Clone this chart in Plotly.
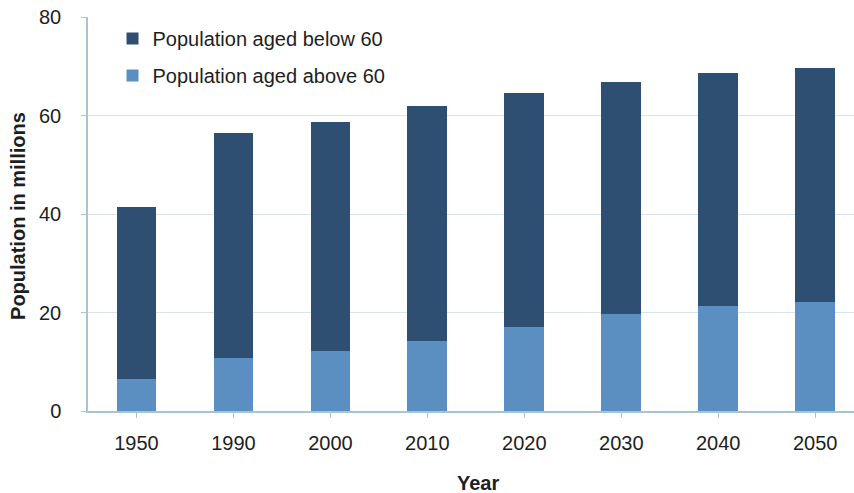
import plotly.graph_objects as go

years = ["1950", "1990", "2000", "2010", "2020", "2030", "2040", "2050"]
above_60 = [6.6, 10.7, 12.2, 14.2, 17.0, 19.6, 21.4, 22.1]
total = [41.4, 56.4, 58.6, 61.9, 64.6, 66.9, 68.7, 69.6]
below_60 = [round(t - a, 1) for t, a in zip(total, above_60)]

dark = "#2F4F72"
light = "#5B8EC1"
font_family = "Liberation Sans, Arial, sans-serif"
text_color = "#1e1e1e"
axis_color = "#A9C3D6"

fig = go.Figure()
fig.add_trace(go.Bar(x=years, y=above_60, name="Population aged above 60",
                     marker=dict(color=light, line=dict(width=0)),
                     legendgroup="b", legendrank=2))
fig.add_trace(go.Bar(x=years, y=below_60, name="Population aged below 60",
                     marker=dict(color=dark, line=dict(width=0)),
                     legendgroup="a", legendrank=1))

fig.update_layout(
    width=854, height=493,
    barmode="stack", bargap=0.59,
    paper_bgcolor="white", plot_bgcolor="white",
    margin=dict(l=88, r=0, t=17, b=82),
    font=dict(family=font_family, color=text_color, size=20),
    showlegend=True,
    legend=dict(x=0.032, y=0.995, xanchor="left", yanchor="top",
                traceorder="grouped", tracegroupgap=8,
                bgcolor="rgba(0,0,0,0)", font=dict(size=20), itemwidth=30),
    xaxis=dict(
        type="category", range=[-0.5, 7.4], automargin=False,
        showline=True, linecolor=axis_color, linewidth=1.5,
        ticks="outside", ticklen=5, tickcolor=axis_color,
        tickfont=dict(size=20), ticklabelstandoff=8,
    ),
    yaxis=dict(
        range=[0, 80], tickvals=[0, 20, 40, 60, 80], automargin=False,
        showline=True, linecolor=axis_color, linewidth=1.5,
        showgrid=True, gridcolor="#D5E4EE", gridwidth=1,
        ticks="outside", ticklen=5, tickcolor=axis_color,
        tickfont=dict(size=20), ticklabelstandoff=16,
        zeroline=False,
    ),
    annotations=[
        dict(text="<b>Year</b>", xref="paper", yref="paper", x=0.509, y=-0.183,
             xanchor="center", yanchor="middle", showarrow=False, font=dict(size=20)),
        dict(text="<b>Population in millions</b>", xref="paper", yref="paper",
             x=-0.0914, y=0.495, xanchor="center", yanchor="middle", textangle=-90,
             showarrow=False, font=dict(size=20)),
    ],
)

fig.write_html(
    "out.html",
    config={"displayModeBar": False},
    post_script="document.body.style.margin='0';document.body.style.overflow='hidden';",
)
